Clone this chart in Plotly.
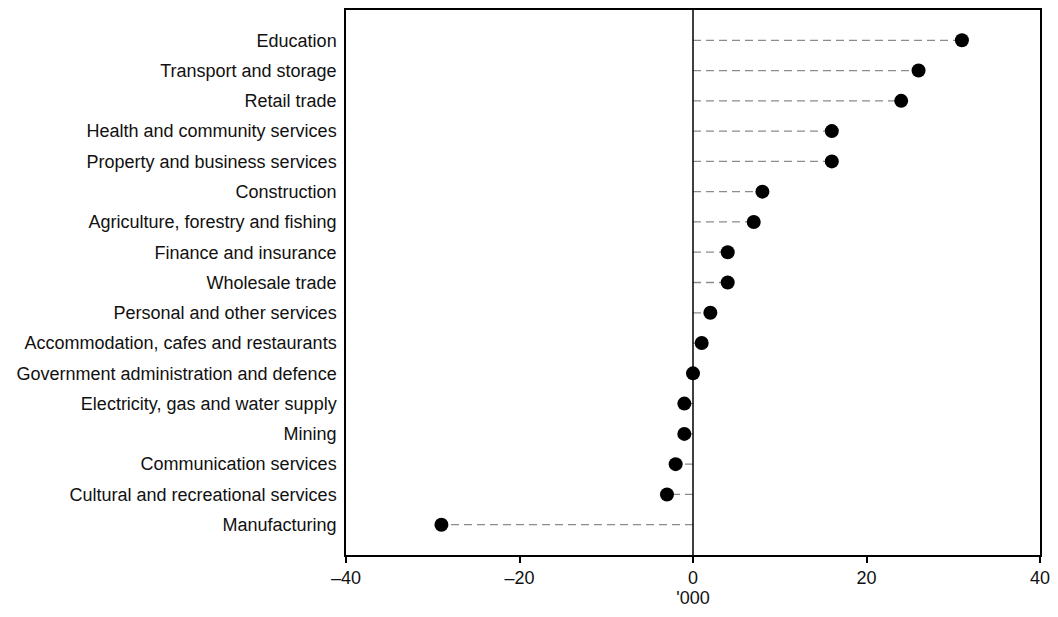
import plotly.graph_objects as go

categories = [
    "Education", "Transport and storage", "Retail trade",
    "Health and community services", "Property and business services",
    "Construction", "Agriculture, forestry and fishing", "Finance and insurance",
    "Wholesale trade", "Personal and other services",
    "Accommodation, cafes and restaurants", "Government administration and defence",
    "Electricity, gas and water supply", "Mining", "Communication services",
    "Cultural and recreational services", "Manufacturing",
]
values = [31, 26, 24, 16, 16, 8, 7, 4, 4, 2, 1, 0, -1, -1, -2, -3, -29]
tick_vals = [-40, -20, 0, 20, 40]
tick_text = ["\u201340", "\u201320", "0", "20", "40"]

n = len(categories)
ypos = list(range(n))

fig = go.Figure()
# dashed connectors
lx, ly = [], []
for v, y in zip(values, ypos):
    lx += [0, v, None]
    ly += [y, y, None]
fig.add_trace(go.Scatter(x=lx, y=ly, mode="lines",
                         line=dict(color="#8c8c8c", width=1.3, dash="8px,5px"),
                         hoverinfo="skip", showlegend=False))
fig.add_trace(go.Scatter(x=values, y=ypos, mode="markers",
                         marker=dict(color="black", size=14),
                         showlegend=False))

fig.update_layout(
    width=1058, height=617,
    margin=dict(l=346, r=14, t=8, b=62),
    paper_bgcolor="white", plot_bgcolor="white",
    font=dict(family="Liberation Sans, Arial, sans-serif", size=18, color="#111111"),
    shapes=[dict(type="line", xref="x", yref="paper", x0=0, x1=0, y0=0, y1=1,
                 line=dict(color="black", width=1.5))],
)
fig.update_xaxes(range=[-40, 40], tickvals=tick_vals, ticktext=tick_text,
                 showgrid=False, zeroline=False, showline=True, linecolor="black",
                 linewidth=1.5, mirror=True, ticks="outside", ticklen=6,
                 tickcolor="black", tickwidth=1.5, ticklabeloverflow="allow",
                 title=dict(text="'000", standoff=0, font=dict(size=18)))
fig.update_yaxes(range=[n, -1], tickvals=ypos, ticktext=categories,
                 showgrid=False, zeroline=False, showline=True, linecolor="black",
                 linewidth=1.5, mirror=True, ticks="", ticklabelstandoff=4)

fig.write_html("out.html", config={"displayModeBar": False},
               post_script="document.body.style.margin='0';document.body.style.overflow='hidden';")
